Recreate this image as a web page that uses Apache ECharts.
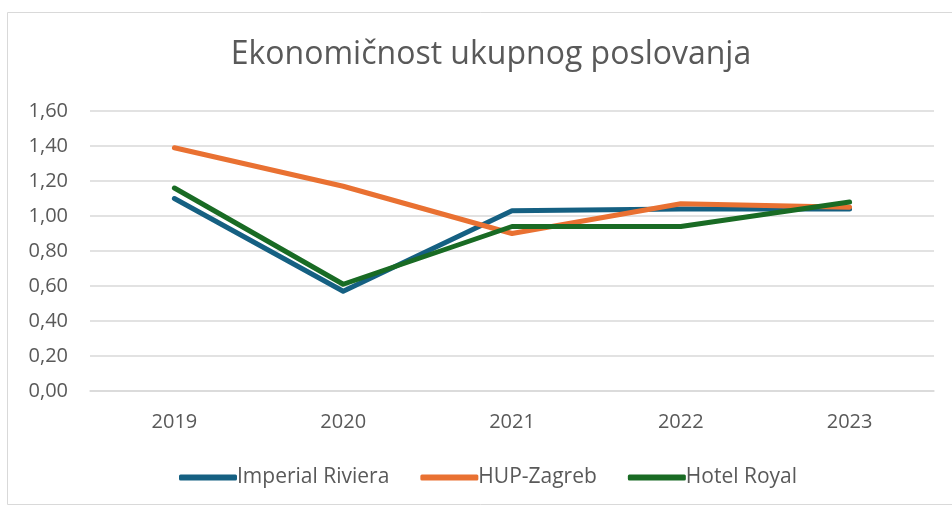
<!DOCTYPE html>
<html>
<head>
<meta charset="utf-8">
<script src="https://cdn.jsdelivr.net/npm/echarts@6/dist/echarts.min.js"></script>
<style>
  html, body { margin: 0; padding: 0; background: #fff; }
  #chart { width: 952px; height: 507px; }
</style>
</head>
<body>
<div id="chart"></div>
<script>
// podaci
const years = ['2019', '2020', '2021', '2022', '2023'];
const imperialRiviera = [1.10, 0.57, 1.03, 1.04, 1.04];
const hupZagreb = [1.39, 1.17, 0.90, 1.07, 1.05];
const hotelRoyal = [1.16, 0.61, 0.94, 0.94, 1.08];
const yTicks = [0, 0.2, 0.4, 0.6, 0.8, 1.0, 1.2, 1.4, 1.6];

const chart = echarts.init(document.getElementById('chart'));

function lineSeries(name, data, color) {
    return {
        name: name,
        type: 'line',
        data: data,
        symbol: 'none',
        lineStyle: { width: 5, color: color, cap: 'round', join: 'round' },
        itemStyle: { color: color },
    };
}

chart.setOption({
    animation: false,
    textStyle: { fontFamily: 'Open Sans' },
    graphic: [
        {
            type: 'rect',
            shape: { x: 7.5, y: 12.5, width: 960, height: 492 },
            style: { fill: 'none', stroke: '#d9d9d9', lineWidth: 1 },
            silent: true,
        },
    ],
    title: {
        text: 'Ekonomičnost ukupnog poslovanja',
        left: 486,
        textAlign: 'center',
        top: 34,
        textStyle: { fontSize: 32, fontWeight: 'normal', color: '#595959', fontFamily: 'Open Sans' },
    },
    legend: {
        bottom: 14,
        left: 174,
        itemWidth: 58,
        itemHeight: 6,
        itemGap: 31,
        icon: 'roundRect',
        textStyle: { fontSize: 21, color: '#595959', padding: [0, 0, 0, -5] },
        data: ['Imperial Riviera', 'HUP-Zagreb', 'Hotel Royal'],
    },
    grid: { left: 90, right: 18, top: 111, bottom: 116 },
    xAxis: {
        type: 'category',
        data: years,
        boundaryGap: true,
        axisTick: { show: false },
        axisLine: { lineStyle: { color: '#d9d9d9', width: 1.5 } },
        axisLabel: { fontSize: 20, color: '#595959', margin: 21 },
    },
    yAxis: {
        type: 'value',
        min: yTicks[0],
        max: yTicks[yTicks.length - 1],
        interval: 0.2,
        axisLine: { show: false },
        axisTick: { show: false },
        splitLine: { lineStyle: { color: '#d9d9d9', width: 1.5 } },
        axisLabel: {
            fontSize: 20,
            color: '#595959',
            margin: 22,
            formatter: v => v.toFixed(2).replace('.', ','),
        },
    },
    series: [
        lineSeries('Imperial Riviera', imperialRiviera, '#156082'),
        lineSeries('HUP-Zagreb', hupZagreb, '#E97132'),
        lineSeries('Hotel Royal', hotelRoyal, '#196B24'),
    ],
});
</script>
</body>
</html>
